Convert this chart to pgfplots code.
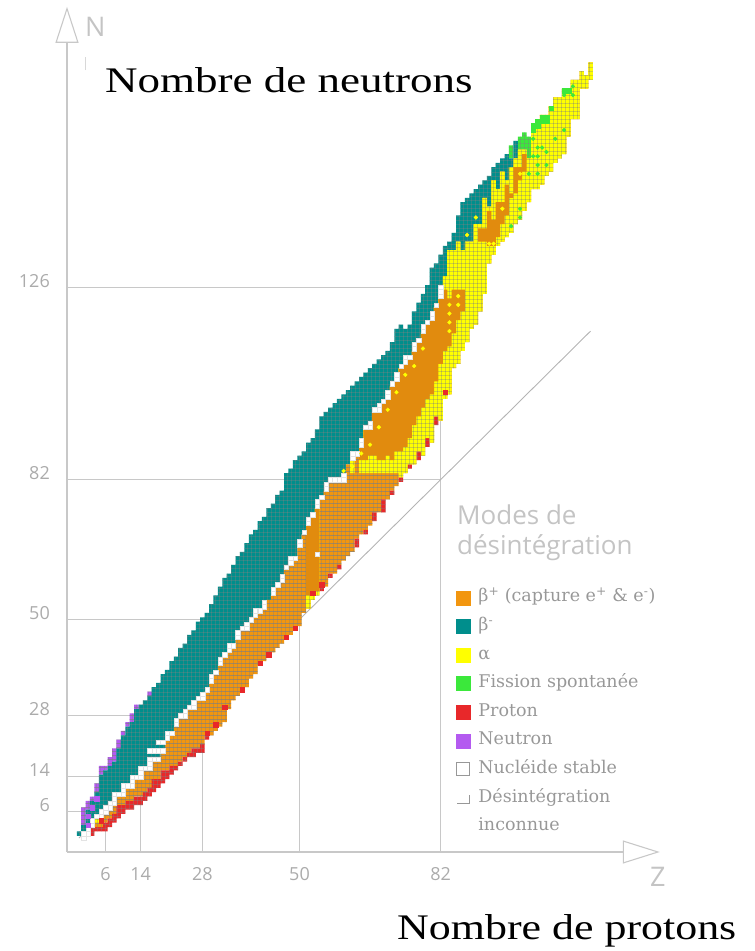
\documentclass[border=0pt]{standalone}
\usepackage{fontspec}
\setmainfont{Liberation Serif}
\newfontfamily\sansf{Open Sans}
\newfontfamily\legf{DejaVu Serif}
\usepackage{graphicx}
\usepackage{pgfplots}
\pgfplotsset{compat=1.18}
\usepackage{pgfplotstable}
\usetikzlibrary{arrows.meta,patterns.meta}

\definecolor{cOr}{HTML}{F2960F}
\definecolor{cTe}{HTML}{008E8C}
\definecolor{cYe}{HTML}{FFFF00}
\definecolor{cGr}{HTML}{3BE83B}
\definecolor{cRe}{HTML}{E8282A}
\definecolor{cVi}{HTML}{B45AF0}
\definecolor{lineg}{HTML}{C8C8C8}
\definecolor{tickg}{HTML}{ABABAB}
\definecolor{legg}{HTML}{989898}
\definecolor{titg}{HTML}{C4C4C4}

\tikzdeclarepattern{
  name=cellgrid,
  type=uncolored,
  bounding box={(0pt,0pt) and (4.41pt,4.37pt)},
  tile size={(4.41pt,4.37pt)},
  code={
    \draw[line width=0.3pt] (1.825pt,0pt) -- (1.825pt,4.37pt) (0pt,1.565pt) -- (4.41pt,1.565pt);
  }
}

% Z, base (= lowest N - 0.5), then number of cells of each decay mode, bottom to top
\pgfplotstableread{
Z base red orA yeA orB yeB teal green violet
0 0.5 0 0 0 0 0 1 0 0
1 -0.5 0 0 0 0 0 3 0 4
2 0.5 0 0 0 0 0 6 0 2
3 0.5 2 0 0 0 0 6 0 1
4 1.5 1 1 1 0 0 6 0 2
5 1.5 1 2 0 0 0 10 0 2
6 1.5 2 2 0 0 0 10 0 1
7 2.5 2 2 0 0 0 10 0 2
8 3.5 2 2 0 0 0 10 0 3
9 4.5 3 2 0 0 0 11 0 2
10 5.5 2 2 0 0 0 14 0 1
11 6.5 2 3 0 0 0 14 0 1
12 6.5 2 3 0 0 0 15 0 2
13 7.5 2 4 0 0 0 16 0 1
14 7.5 2 4 0 0 0 17 0 0
15 8.5 2 5 0 0 0 16 0 0
16 9.5 2 4 0 0 0 17 0 1
17 10.5 3 4 0 0 0 17 0 0
18 11.5 2 4 0 0 0 18 0 0
19 12.5 3 4 0 0 0 18 0 0
20 13.5 2 7 0 0 0 16 0 0
21 14.5 2 7 0 0 0 17 0 0
22 15.5 1 9 0 0 0 16 0 0
23 16.5 1 10 0 0 0 16 0 0
24 17.5 1 9 0 0 0 17 0 0
25 18.5 1 10 0 0 0 17 0 0
26 18.5 2 9 0 0 0 18 0 0
27 19.5 1 11 0 0 0 18 0 0
28 19.5 2 10 0 0 0 19 0 0
29 22.5 1 10 0 0 0 18 0 0
30 23.5 0 12 0 0 0 18 0 0
31 24.5 0 13 0 0 0 18 0 0
32 25.5 0 14 0 0 0 18 0 0
33 26.5 0 15 0 0 0 18 0 0
34 29.5 0 13 0 0 0 18 0 0
35 31.5 0 12 0 0 0 19 0 0
36 32.5 0 13 0 0 0 19 0 0
37 33.5 0 14 0 0 0 18 0 0
38 34.5 0 13 0 0 0 20 0 0
39 36.5 0 13 0 0 0 20 0 0
40 37.5 0 13 0 0 0 20 0 0
41 39.5 0 12 0 0 0 21 0 0
42 40.5 0 12 0 0 0 21 0 0
43 41.5 0 13 0 0 0 21 0 0
44 42.5 0 13 0 0 0 21 0 0
45 43.5 0 14 0 0 0 21 0 0
46 44.5 0 14 0 0 0 21 0 0
47 45.5 0 16 0 0 0 22 0 0
48 46.5 0 16 0 0 0 22 0 0
49 47.5 0 16 0 0 0 23 0 0
50 48.5 0 18 0 0 0 21 0 0
51 51.5 0 18 0 0 0 19 0 0
52 52.5 0 0 3 16 0 19 0 0
53 54.5 0 0 1 18 0 18 0 0
54 55.5 0 0 1 19 0 18 0 0
55 56.5 1 20 0 0 0 19 0 0
56 57.5 0 22 0 0 0 18 0 0
57 59.5 1 21 0 0 0 17 0 0
58 60.5 0 21 0 0 0 18 0 0
59 61.5 1 19 0 0 0 19 0 0
60 63.5 0 18 0 0 0 20 0 0
61 64.5 0 21 0 0 0 17 0 0
62 65.5 0 18 3 0 0 17 0 0
63 66.5 2 19 0 0 0 17 0 0
64 69.5 0 14 3 3 0 16 0 0
65 69.5 1 13 3 7 0 13 0 0
66 71.5 0 12 4 6 0 14 0 0
67 72.5 2 9 4 10 0 11 0 0
68 74.5 0 9 3 11 0 12 0 0
69 74.5 3 6 3 13 0 11 0 0
70 77.5 0 6 4 13 0 11 0 0
71 78.5 1 4 3 17 0 10 0 0
72 80.5 0 3 5 16 0 12 0 0
73 81.5 1 0 6 19 0 10 0 0
74 83.5 0 0 6 19 0 8 0 0
75 84.5 1 0 6 18 0 8 0 0
76 85.5 0 0 9 17 0 9 0 0
77 86.5 2 0 8 17 0 9 0 0
78 87.5 0 0 11 17 0 9 0 0
79 89.5 2 0 9 17 0 9 0 0
80 90.5 0 0 11 17 0 12 0 0
81 94.5 2 0 8 17 0 10 0 0
82 95.5 0 0 13 15 0 10 0 0
83 100.5 0 0 11 14 3 7 0 0
84 101.5 0 0 11 11 11 2 0 0
85 107.5 0 0 8 10 9 4 0 0
86 108.5 0 0 10 7 11 6 0 0
87 111.5 0 0 9 5 9 11 0 0
88 113.5 0 0 23 0 0 10 0 0
89 116.5 0 0 20 0 0 11 0 0
90 117.5 0 0 23 0 0 8 0 0
91 120.5 0 0 16 3 1 9 0 0
92 124.5 0 0 12 3 7 4 0 0
93 131.5 0 0 4 8 1 7 0 0
94 133.5 0 0 2 6 9 3 0 0
95 135.5 0 0 2 8 3 6 0 0
96 136.5 0 0 4 5 7 3 0 0
97 137.5 0 0 5 7 1 6 0 0
98 138.5 0 0 8 1 6 2 3 0
99 140.5 0 0 7 6 2 4 0 0
100 141.5 0 0 9 3 4 0 3 0
101 143.5 0 0 9 4 1 0 4 0
102 145.5 0 0 10 0 0 0 5 0
103 148.5 0 0 15 0 0 0 0 0
104 148.5 0 0 16 0 0 0 0 0
105 149.5 0 0 16 0 0 0 0 0
106 151.5 0 0 14 0 0 0 0 0
107 152.5 0 0 15 0 0 0 0 0
108 154.5 0 0 15 0 0 0 0 0
109 155.5 0 0 14 0 0 0 0 0
110 156.5 0 0 15 0 0 0 0 0
111 160.5 0 0 11 0 0 0 0 0
112 164.5 0 0 9 0 0 0 0 0
113 164.5 0 0 9 0 0 0 0 0
114 171.5 0 0 4 0 0 0 0 0
115 171.5 0 0 3 0 0 0 0 0
116 173.5 0 0 4 0 0 0 0 0
}\chart

\pgfplotsset{
  chartaxis/.style={x=4.41pt, y=4.37pt, xmin=-2.72, xmax=131.7, ymin=-3.2, ymax=190.2,
    at={(67pt,99pt)}, anchor=south west, clip=false},
  cell/.style={fill=#1, draw=none, postaction={pattern=cellgrid, pattern color=black!50}},
}

\begin{document}
\begin{tikzpicture}
\useasboundingbox (0,0) rectangle (755pt,951pt);

% ---- background: axes, magic-number lines, N=Z line
\begin{axis}[chartaxis,
  axis lines=left,
  axis line style={lineg, line width=1.1pt},
  x axis line style={-{Triangle[open, length=37pt, width=23pt, line width=1.1pt]}},
  y axis line style={-{Triangle[open, length=36pt, width=23pt, line width=1.1pt]}},
  xtick={6,14,28,50,82}, xticklabels={6,14,28,50,82},
  ytick={6,14,28,50,82,126}, yticklabels={6,14,28,50,82,126},
  major tick length=0pt, tick style={draw=none},
  xticklabel style={font=\sansf\fontsize{18}{18}\selectfont, text=tickg, inner sep=0pt, anchor=north, yshift=-15pt},
  yticklabel style={font=\sansf\fontsize{18}{18}\selectfont, text=tickg, inner sep=0pt, anchor=east, xshift=-17pt, yshift=6.5pt},
]
\addplot[lineg, line width=1.1pt] coordinates {(-2.72,6) (6,6) (6,-3.2)};
\addplot[lineg, line width=1.1pt] coordinates {(-2.72,14) (14,14) (14,-3.2)};
\addplot[lineg, line width=1.1pt] coordinates {(-2.72,28) (28,28) (28,-3.2)};
\addplot[lineg, line width=1.1pt] coordinates {(-2.72,50) (50,50) (50,-3.2)};
\addplot[lineg, line width=1.1pt] coordinates {(-2.72,82) (82,82)};
\addplot[lineg, line width=1.1pt] coordinates {(-2.72,126) (82,126) (82,-3.2)};
\addplot[lineg!90!black, line width=0.9pt] coordinates {(0,0) (116,116)};
\addplot[lineg!70, line width=0.8pt] coordinates {(1.36,175.7) (1.36,178.7)};
\end{axis}

% ---- nuclide columns: one continuous orange band (beta+) with the other modes stacked on it
\begin{axis}[chartaxis, hide axis, ybar stacked, bar width=1.01]
\addplot[draw=none, fill=none] table[x=Z, y=base] {\chart};
\addplot[cell=cRe] table[x=Z, y=red] {\chart};
\addplot[cell=cOr] table[x=Z, y expr=\thisrow{orA}+\thisrow{yeA}+\thisrow{orB}+\thisrow{yeB}] {\chart};
\addplot[cell=cTe] table[x=Z, y=teal] {\chart};
\addplot[cell=cGr] table[x=Z, y=green] {\chart};
\addplot[cell=cVi] table[x=Z, y=violet] {\chart};
\end{axis}

% ---- alpha: one band from the first to the last alpha cell
\begin{axis}[chartaxis, hide axis, ybar stacked, bar width=1.01]
\addplot[draw=none, fill=none] table[x=Z, y expr=\thisrow{base}+\thisrow{red}+\thisrow{orA}] {\chart};
\addplot[cell=cYe] table[x=Z, y expr=\thisrow{yeA}+\thisrow{orB}+\thisrow{yeB}] {\chart};
\end{axis}

% ---- beta+ cells between the two alpha groups
\begin{axis}[chartaxis, hide axis, ybar stacked, bar width=1.01]
\addplot[draw=none, fill=none] table[x=Z, y expr=\thisrow{base}+\thisrow{red}+\thisrow{orA}+\thisrow{yeA}] {\chart};
\addplot[fill=cOr!93!black, draw=none] table[x=Z, y=orB] {\chart};
\end{axis}

% ---- single nuclides and legend
\begin{axis}[chartaxis, hide axis,
  legend style={at={(0.6562,0.3112)}, anchor=north west, draw=none, fill=none,
    inner sep=0pt, outer sep=0pt, row sep=11.1pt, column sep=8pt,
    font=\legf\fontsize{17.5}{25}\selectfont, text=legg,
    nodes={inner sep=0pt, text height=13pt, text depth=4.5pt},
    cells={anchor=west}},
  legend cell align=left,
]
\addlegendimage{legend image code/.code={\fill[cOr] (0pt,-7pt) rectangle (14pt,7pt);}}
\addlegendentry{β\textsuperscript{+} (capture e\textsuperscript{+} \& e\textsuperscript{-})}
\addlegendimage{legend image code/.code={\fill[cTe] (0pt,-7pt) rectangle (14pt,7pt);}}
\addlegendentry{β\textsuperscript{-}}
\addlegendimage{legend image code/.code={\fill[cYe] (0pt,-7pt) rectangle (14pt,7pt);}}
\addlegendentry{α}
\addlegendimage{legend image code/.code={\fill[cGr] (0pt,-7pt) rectangle (14pt,7pt);}}
\addlegendentry{Fission spontanée}
\addlegendimage{legend image code/.code={\fill[cRe] (0pt,-7pt) rectangle (14pt,7pt);}}
\addlegendentry{Proton}
\addlegendimage{legend image code/.code={\fill[cVi] (0pt,-7pt) rectangle (14pt,7pt);}}
\addlegendentry{Neutron}
\addlegendimage{legend image code/.code={\draw[legg, line width=0.7pt] (0.5pt,-6.5pt) rectangle (13.5pt,6.5pt);}}
\addlegendentry{Nucléide stable}
\addlegendimage{legend image code/.code={\fill[white, opacity=0] (0pt,-7pt) rectangle (14pt,7pt); \draw[legg, line width=0.7pt] (1pt,-5pt) -- (13pt,-5pt) -- (13pt,3pt);}}
\addlegendentry{Désintégration}
\addlegendimage{empty legend}
\addlegendentry{inconnue}

% stable nuclides (the white staircase)
\addplot[forget plot, only marks, color=white, mark=square*, mark size=2.2pt, mark options={fill=white, draw=gray!22, line width=0.2pt}] coordinates {
(1,0)(1,1)(2,1)(2,2)(3,3)(3,4)(4,5)(5,5)(5,6)(6,6)(6,7)(7,7)(7,8)(8,8)(8,9)(8,10)(9,10)(10,10)(10,11)(10,12)(11,12)(12,12)(12,13)(12,14)(13,14)(14,14)(14,15)(14,16)(15,16)(16,16)(16,17)(16,18)(16,20)(17,18)(17,20)(18,18)(18,20)(18,22)
(19,20)(19,22)(20,23)(20,24)(21,24)(22,26)(22,27)(23,28)(24,28)(24,29)(25,30)(26,30)(26,31)(27,32)(28,32)(28,33)(29,34)(30,36)(30,37)(31,38)(32,40)(32,41)(33,42)(34,43)(34,44)(35,44)(36,46)(36,47)(37,48)(38,48)(38,49)(39,50)(40,51)(40,52)(41,52)(42,53)(42,54)(44,56)(44,57)(45,58)(46,59)(46,60)(47,62)(48,63)(48,64)(49,64)(50,67)(50,68)(51,70)(52,72)(52,73)(53,74)(54,76)(54,77)(55,78)(56,80)(56,81)(57,82)(58,82)(59,82)(60,82)(60,83)(62,87)(62,88)(63,88)(64,90)(64,91)(65,94)(66,94)(66,95)(67,98)(68,98)(68,99)(69,100)(70,101)(70,102)(71,104)(72,105)(72,106)(73,108)(74,109)(74,110)(75,110)(76,112)(76,113)(77,114)(78,116)(78,117)(79,118)(80,119)(80,120)(81,122)(82,124)(82,125)(82,126)(54,65)
};
% alpha emitters among other modes
\addplot[forget plot, only marks, color=cYe, mark=*, mark size=1.9pt, mark options={fill=cYe, draw=cYe}] coordinates {
(60,84)(62,85)(64,88)(66,90)(68,94)(70,98)(72,102)(74,106)(76,108)(78,112)(84,116)(84,118)(84,120)(84,122)(86,122)(86,124)(88,138)(90,142)(93,136)(94,136)(96,144)(100,152)
};
% spontaneous fission
\addplot[forget plot, only marks, color=cGr, mark=*, mark size=1.9pt, mark options={fill=cGr, draw=cGr}] coordinates {
(98,140)(100,142)(100,144)(102,152)(104,152)(104,154)(104,156)(104,158)(106,154)(106,157)(105,158)(103,156)(103,160)(108,160)(110,162)(110,170)(112,170)(112,172)
};
\addplot[forget plot, only marks, color=cGr, mark=square*, mark size=2.2pt, mark options={fill=cGr, draw=cGr, line width=0.1pt}] coordinates {
(103,162)(103,163)(104,163)(104,164)(105,164)(105,165)(106,164)(106,165)(107,167)(110,171)(111,171)
};
% neutron and proton emitters
\addplot[forget plot, only marks, color=cVi, mark=square*, mark size=2.2pt, mark options={fill=cVi, draw=cVi, line width=0.1pt}] coordinates {
(2,3)(2,5)(3,7)(4,9)
};
\addplot[forget plot, only marks, color=cRe, mark=square*, mark size=2.2pt, mark options={fill=cRe, draw=cRe, line width=0.1pt}] coordinates {
(5,4)(29,24)(31,26)(33,30)(37,34)(41,40)(43,42)(47,46)(49,48)(53,56)(55,58)(83,102)
};
\end{axis}

% ---- texts
\node[anchor=base west, inner sep=0pt, font=\fontsize{36}{40}\selectfont] at (105pt,858.3pt) {\scalebox{1.25}[1]{Nombre de neutrons}};
\node[anchor=base west, inner sep=0pt, font=\fontsize{36}{40}\selectfont] at (397pt,11pt) {\scalebox{1.22}[1]{Nombre de protons}};
\node[anchor=base west, inner sep=0pt, text=titg, font=\sansf\fontsize{27}{30}\selectfont] at (85pt,914pt) {N};
\node[anchor=base west, inner sep=0pt, text=titg, font=\sansf\fontsize{27}{30}\selectfont] at (650pt,64pt) {Z};
\node[anchor=base west, inner sep=0pt, text=titg, font=\sansf\fontsize{26}{30}\selectfont] at (457pt,426pt) {Modes de};
\node[anchor=base west, inner sep=0pt, text=titg, font=\sansf\fontsize{26}{30}\selectfont] at (457pt,396pt) {désintégration};
\end{tikzpicture}
\end{document}
